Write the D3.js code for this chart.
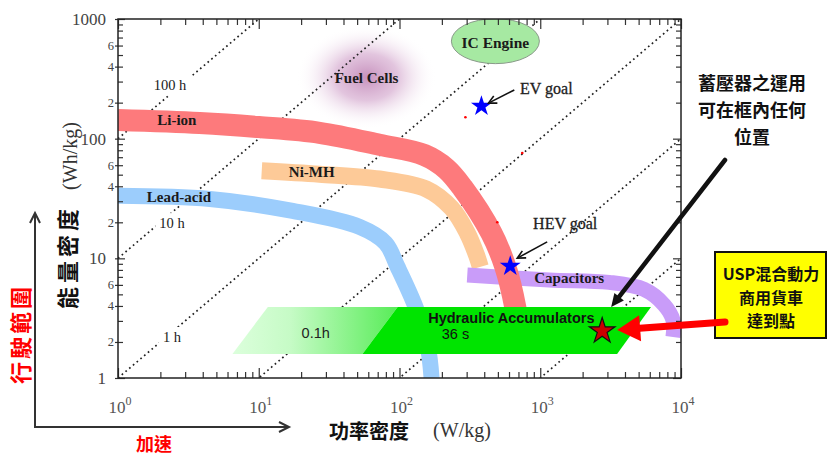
<!DOCTYPE html>
<html>
<head>
<meta charset="utf-8">
<script src="https://cdn.jsdelivr.net/npm/d3@7"></script>
<style>
  body { margin: 0; background: #fff; }
  svg { display: block; font-family: "Liberation Serif", "Times New Roman", serif; }
  .cjk { font-family: "Noto Sans CJK TC", "Noto Sans CJK SC", sans-serif; font-weight: 700; }
  .sans { font-family: "Liberation Sans", Arial, sans-serif; }
</style>
</head>
<body>
<div id="chart"></div>
<script>
// Ragone plot: power density (W/kg) vs energy density (Wh/kg)
// band centre lines, [P, E]
const leadAcid = [[1, 33.3], [4.5, 31.3], [17.4, 24.9], [52, 18.3], [79.6, 13.4], [96.8, 8.5], [130, 3.92], [158, 1.89], [169, 1]];
const niMH = [[10.5, 54], [27, 50.5], [72, 46], [155, 38], [234, 26.3], [303, 16.3], [352, 10.7], [375, 8.5]];
const liIon = [[1, 143], [3.8, 135], [10, 125], [27, 112], [72, 89], [150, 73], [215, 56], [280, 39], [449, 16.3], [565, 8.5], [665, 3.9], [710, 2.3]];
const capacitors = [[303, 7.25], [1158, 6.6], [3085, 6.3], [5465, 5.5], [7570, 4.1], [8770, 3.05], [8770, 2.2]];

// hydraulic accumulator parallelogram, two parts
const accLight = [[6.5, 1.59], [11.6, 3.92], [97, 3.92], [54.6, 1.59]];
const accSolid = [[54.6, 1.59], [97, 3.92], [6120, 3.92], [3517, 1.59]];

// constant discharge time lines E = t * P (hours)
const hourLines = [100, 10, 1, 0.1, 0.01, 0.001];
const hourLabels = [
  { text: '100 h', p: 2.34, e: 280 },
  { text: '10 h', p: 2.42, e: 19.7 },
  { text: '1 h', p: 2.42, e: 2.2 }
];

const goals = [
  { name: 'EV goal', p: 382, e: 187, lp: 1104, le: 265, color: '#0000ff' },
  { name: 'HEV goal', p: 612, e: 8.6, lp: 1503, le: 19.4, color: '#0000ff' }
];
const uspPoint = { p: 2754, e: 2.47 };
const redDots = [[294, 151], [745, 76], [495, 20]];

const bandLabels = [
  { text: 'Li-ion', p: 2.62, e: 143 },
  { text: 'Ni-MH', p: 23.8, e: 52.6 },
  { text: 'Lead-acid', p: 2.71, e: 32.5 },
  { text: 'Capacitors', p: 1606, e: 6.85 },
  { text: 'Fuel Cells', p: 58.3, e: 321 }
];
const icEngine = { text: 'IC Engine', p: 480, e: 653 };
const fuelCell = { p: 58.3, e: 327 };

const xMajor = [1, 10, 100, 1000, 10000];
const yMajor = [1, 10, 100, 1000];

const W = 828, H = 457;
const plot = { left: 118, right: 681, top: 19, bottom: 378 };

const svg = d3.select('#chart').append('svg').attr('width', W).attr('height', H);
const defs = svg.append('defs');

const x = d3.scaleLog().domain([1, 1e4]).range([plot.left, plot.right]);
const y = d3.scaleLog().domain([1, 1000]).range([plot.bottom, plot.top]);

defs.append('clipPath').attr('id', 'plotclip').append('rect')
  .attr('x', plot.left).attr('y', plot.top)
  .attr('width', plot.right - plot.left).attr('height', plot.bottom - plot.top);

const fg = defs.append('radialGradient').attr('id', 'fuelgrad');
fg.append('stop').attr('offset', '0%').attr('stop-color', 'rgb(196,140,186)').attr('stop-opacity', 0.95);
fg.append('stop').attr('offset', '45%').attr('stop-color', 'rgb(214,172,208)').attr('stop-opacity', 0.7);
fg.append('stop').attr('offset', '100%').attr('stop-color', '#fff').attr('stop-opacity', 0);

const lg = defs.append('linearGradient').attr('id', 'accgrad').attr('x1', '0%').attr('x2', '100%').attr('y1', '0%').attr('y2', '0%');
lg.append('stop').attr('offset', '0%').attr('stop-color', '#dcffdc');
lg.append('stop').attr('offset', '35%').attr('stop-color', '#c6fbc6');
lg.append('stop').attr('offset', '100%').attr('stop-color', '#58ec58');

const plotG = svg.append('g').attr('clip-path', 'url(#plotclip)');

// fuel cell blob
plotG.append('ellipse')
  .attr('cx', x(fuelCell.p)).attr('cy', y(fuelCell.e))
  .attr('rx', 70).attr('ry', 52)
  .attr('fill', 'url(#fuelgrad)');

// dotted time lines
plotG.selectAll('.tline').data(hourLines).join('line')
  .attr('class', 'tline')
  .attr('x1', x(1)).attr('y1', t => y(t * 1))
  .attr('x2', x(1e4)).attr('y2', t => y(t * 1e4))
  .attr('stroke', '#222').attr('stroke-width', 1.7)
  .attr('stroke-dasharray', '1.7,3.2');

// hour labels, white behind so the dotted line breaks
hourLabels.forEach(d => {
  const t = plotG.append('text')
    .attr('x', x(d.p)).attr('y', y(d.e))
    .attr('text-anchor', 'middle').attr('dominant-baseline', 'central')
    .attr('font-size', 14.5).attr('fill', '#1a1a1a')
    .text(d.text);
  const b = t.node().getBBox();
  plotG.insert('rect', () => t.node())
    .attr('x', b.x - 4).attr('y', b.y - 2)
    .attr('width', b.width + 8).attr('height', b.height + 4)
    .attr('fill', '#fff');
});

const bandLine = d3.line().x(d => x(d[0])).y(d => y(d[1])).curve(d3.curveCatmullRom.alpha(0.5));
const bands = [
  { pts: leadAcid, color: '#9ccdfc', w: 16 },
  { pts: niMH, color: '#fdca98', w: 17 },
  { pts: capacitors, color: '#c99cf9', w: 15 },
  { pts: liIon, color: '#fd7a7c', w: 22 }
];
plotG.selectAll('.band').data(bands).join('path')
  .attr('class', 'band')
  .attr('d', d => bandLine(d.pts))
  .attr('fill', 'none')
  .attr('stroke', d => d.color)
  .attr('stroke-width', d => d.w)
  .attr('stroke-linecap', 'butt');

// hydraulic accumulators
const poly = pts => pts.map(d => [x(d[0]), y(d[1])].join(',')).join(' ');
plotG.append('polygon').attr('points', poly(accLight)).attr('fill', 'url(#accgrad)');
plotG.append('polygon').attr('points', poly(accSolid)).attr('fill', '#00e400');

plotG.selectAll('.rdot').data(redDots).join('circle')
  .attr('cx', d => x(d[0])).attr('cy', d => y(d[1])).attr('r', 1.3).attr('fill', '#f00');

// band labels
plotG.selectAll('.blabel').data(bandLabels).join('text')
  .attr('x', d => x(d.p)).attr('y', d => y(d.e))
  .attr('text-anchor', 'middle').attr('dominant-baseline', 'central')
  .attr('font-size', 15).attr('font-weight', 'bold').attr('fill', '#1a1a1a')
  .text(d => d.text);

plotG.append('text').attr('class', 'sans')
  .attr('x', x(623)).attr('y', y(3.17))
  .attr('text-anchor', 'middle').attr('dominant-baseline', 'central')
  .attr('font-size', 14.5).attr('font-weight', 'bold').attr('fill', '#111')
  .text('Hydraulic Accumulators');
plotG.append('text').attr('class', 'sans')
  .attr('x', x(250)).attr('y', y(2.33))
  .attr('text-anchor', 'middle').attr('dominant-baseline', 'central')
  .attr('font-size', 14.5).attr('fill', '#111')
  .text('36 s');
plotG.append('text').attr('class', 'sans')
  .attr('x', x(25.4)).attr('y', y(2.38))
  .attr('text-anchor', 'middle').attr('dominant-baseline', 'central')
  .attr('font-size', 14.5).attr('fill', '#222')
  .text('0.1h');

// IC engine
plotG.append('ellipse')
  .attr('cx', x(icEngine.p)).attr('cy', y(icEngine.e))
  .attr('rx', 44).attr('ry', 22.5)
  .attr('fill', '#a6e9a2').attr('stroke', '#8a9a8a').attr('stroke-width', 1);
plotG.append('text')
  .attr('x', x(icEngine.p)).attr('y', y(icEngine.e) + 1)
  .attr('text-anchor', 'middle').attr('dominant-baseline', 'central')
  .attr('font-size', 15.5).attr('font-weight', 'bold').attr('fill', '#1a1a1a')
  .text(icEngine.text);

function arrow(g, x1, y1, x2, y2, color, width, headLen, headW, filled) {
  const a = Math.atan2(y2 - y1, x2 - x1);
  const bx = x2 - headLen * Math.cos(a), by = y2 - headLen * Math.sin(a);
  const nx = -Math.sin(a), ny = Math.cos(a);
  const p1 = [bx + nx * headW / 2, by + ny * headW / 2];
  const p2 = [bx - nx * headW / 2, by - ny * headW / 2];
  if (filled) {
    g.append('line').attr('x1', x1).attr('y1', y1).attr('x2', bx + 0.5 * Math.cos(a)).attr('y2', by + 0.5 * Math.sin(a))
      .attr('stroke', color).attr('stroke-width', width).attr('stroke-linecap', 'round');
    g.append('polygon').attr('points', [p1, [x2, y2], p2].map(p => p.join(',')).join(' ')).attr('fill', color);
  } else {
    g.append('line').attr('x1', x1).attr('y1', y1).attr('x2', x2).attr('y2', y2)
      .attr('stroke', color).attr('stroke-width', width);
    g.append('polyline').attr('points', [p1, [x2, y2], p2].map(p => p.join(',')).join(' '))
      .attr('fill', 'none').attr('stroke', color).attr('stroke-width', width);
  }
}

// goal stars + labels
const star = (r) => d3.symbol().type(d3.symbolStar).size(r * r / 0.8908130915292852)();
goals.forEach(d => {
  svg.append('path').attr('d', star(11))
    .attr('transform', `translate(${x(d.p)},${y(d.e)})`)
    .attr('fill', d.color);
  svg.append('text')
    .attr('x', x(d.lp)).attr('y', y(d.le))
    .attr('text-anchor', 'middle').attr('dominant-baseline', 'central')
    .attr('font-size', 16).attr('fill', '#222').attr('stroke', '#222').attr('stroke-width', 0.3)
    .text(d.name);
});
arrow(svg, x(1104) - 32, y(265) + 2, x(382) + 7, y(187) - 3, '#111', 1.6, 8, 8, false);
arrow(svg, x(1503) - 18, y(19.4) + 18, x(612) + 7, y(8.6) - 8, '#111', 1.6, 8, 8, false);

// axes
const isMajor = v => Math.abs(Math.log10(v) - Math.round(Math.log10(v))) < 1e-9;
const xMinor = x.ticks().filter(v => !isMajor(v));
const yMinor = y.ticks().filter(v => !isMajor(v));
const lead = v => Math.round(v / Math.pow(10, Math.floor(Math.log10(v) + 1e-9)));

const axG = svg.append('g').attr('class', 'axes');
function addAxis(axis, tx, ty) {
  const g = axG.append('g').attr('transform', `translate(${tx},${ty})`).call(axis);
  g.select('.domain').remove();
  g.selectAll('.tick line').attr('stroke', '#333').attr('stroke-width', 1.2);
  return g;
}
addAxis(d3.axisBottom(x).tickValues(xMinor).tickSize(-6).tickFormat(''), 0, plot.bottom);
addAxis(d3.axisBottom(x).tickValues(xMajor).tickSize(-10).tickFormat(''), 0, plot.bottom);
addAxis(d3.axisTop(x).tickValues(xMinor).tickSize(-6).tickFormat(''), 0, plot.top);
addAxis(d3.axisTop(x).tickValues(xMajor).tickSize(-10).tickFormat(''), 0, plot.top);
addAxis(d3.axisRight(y).tickValues(yMinor).tickSize(-5).tickFormat(''), plot.right, 0);
addAxis(d3.axisRight(y).tickValues(yMajor).tickSize(-8).tickFormat(''), plot.right, 0);

const yMaj = addAxis(d3.axisLeft(y).tickValues(yMajor).tickSize(-7).tickPadding(12).tickFormat(d3.format('d')), plot.left, 0);
yMaj.selectAll('text').attr('font-size', 17).attr('font-family', '"Liberation Serif", serif').attr('fill', '#444');
const yMin = addAxis(d3.axisLeft(y).tickValues(yMinor).tickSize(-5).tickPadding(4)
  .tickFormat(d => [2, 4, 6].includes(lead(d)) ? lead(d) : ''), plot.left, 0);
yMin.selectAll('text').attr('font-size', 12.5).attr('font-family', '"Liberation Serif", serif').attr('fill', '#444');
// short outward stubs at labelled ticks
addAxis(d3.axisLeft(y).tickValues(y.ticks().filter(v => isMajor(v) || [2, 4, 6].includes(lead(v)))).tickSize(3).tickFormat(''), plot.left, 0);

// x tick labels 10^n
const xl = axG.selectAll('.xlab').data(xMajor).join('text')
  .attr('class', 'xlab')
  .attr('x', d => x(d) + 2).attr('y', 413)
  .attr('text-anchor', 'middle')
  .attr('font-size', 17).attr('fill', '#555');
xl.append('tspan').text('10');
xl.append('tspan').attr('dy', -8).attr('font-size', 12).text(d => Math.round(Math.log10(d)));

axG.append('rect')
  .attr('x', plot.left).attr('y', plot.top)
  .attr('width', plot.right - plot.left).attr('height', plot.bottom - plot.top)
  .attr('fill', 'none').attr('stroke', '#222').attr('stroke-width', 1.5);

// axis titles
svg.append('text')
  .attr('transform', 'translate(70,156) rotate(-90)')
  .attr('text-anchor', 'middle').attr('dominant-baseline', 'central')
  .attr('font-size', 20).attr('fill', '#333')
  .text('(Wh/kg)');
svg.append('text').attr('class', 'cjk')
  .attr('transform', 'translate(66,257) rotate(-90)')
  .attr('text-anchor', 'middle').attr('dominant-baseline', 'central')
  .attr('font-size', 22).attr('letter-spacing', 4).attr('fill', '#111')
  .text('能量密度');
svg.append('text').attr('class', 'cjk')
  .attr('transform', 'translate(19,334) rotate(-90)')
  .attr('text-anchor', 'middle').attr('dominant-baseline', 'central')
  .attr('font-size', 22).attr('letter-spacing', 3).attr('fill', '#ff0000')
  .text('行駛範圍');

svg.append('text').attr('class', 'cjk')
  .attr('x', 369).attr('y', 430)
  .attr('text-anchor', 'middle').attr('dominant-baseline', 'central')
  .attr('font-size', 20).attr('fill', '#111')
  .text('功率密度');
svg.append('text')
  .attr('x', 462).attr('y', 430)
  .attr('text-anchor', 'middle').attr('dominant-baseline', 'central')
  .attr('font-size', 20).attr('fill', '#333')
  .text('(W/kg)');
svg.append('text').attr('class', 'cjk')
  .attr('x', 154).attr('y', 443)
  .attr('text-anchor', 'middle').attr('dominant-baseline', 'central')
  .attr('font-size', 18).attr('fill', '#ff0000')
  .text('加速');

// direction arrows (range / acceleration)
svg.append('path')
  .attr('d', 'M35,214 L35,427 L288,427')
  .attr('fill', 'none').attr('stroke', '#333').attr('stroke-width', 2);
svg.append('path').attr('d', 'M30,223 L35,213 L40,223')
  .attr('fill', 'none').attr('stroke', '#333').attr('stroke-width', 2);
svg.append('path').attr('d', 'M279,422 L289,427 L279,432')
  .attr('fill', 'none').attr('stroke', '#333').attr('stroke-width', 2);

// right hand notes
const note = svg.append('g').attr('class', 'cjk').attr('font-size', 18).attr('fill', '#111').attr('text-anchor', 'middle');
['蓄壓器之運用', '可在框內任何', '位置'].forEach((t, i) => {
  note.append('text').attr('x', 752).attr('y', 82 + i * 27).attr('dominant-baseline', 'central').text(t);
});
arrow(svg, 725, 160, x(uspPoint.p) + 9, y(uspPoint.e) - 24, '#111', 4.5, 13, 12, true);

svg.append('rect')
  .attr('x', 715).attr('y', 252).attr('width', 111).attr('height', 86)
  .attr('fill', '#ffff00').attr('stroke', '#111').attr('stroke-width', 2);
const box = svg.append('g').attr('class', 'cjk').attr('font-size', 16).attr('fill', '#111').attr('text-anchor', 'middle');
['USP混合動力', '商用貨車', '達到點'].forEach((t, i) => {
  box.append('text').attr('x', 771).attr('y', 273 + i * 23.5).attr('dominant-baseline', 'central').text(t);
});

arrow(svg, 725, 322, x(uspPoint.p) + 15, y(uspPoint.e) - 1, '#ff0000', 7, 23, 26, true);

// USP point
svg.append('path').attr('d', star(13.5))
  .attr('transform', `translate(${x(uspPoint.p)},${y(uspPoint.e)})`)
  .attr('fill', '#cc0000').attr('stroke', '#111').attr('stroke-width', 1.2);
</script>
</body>
</html>
